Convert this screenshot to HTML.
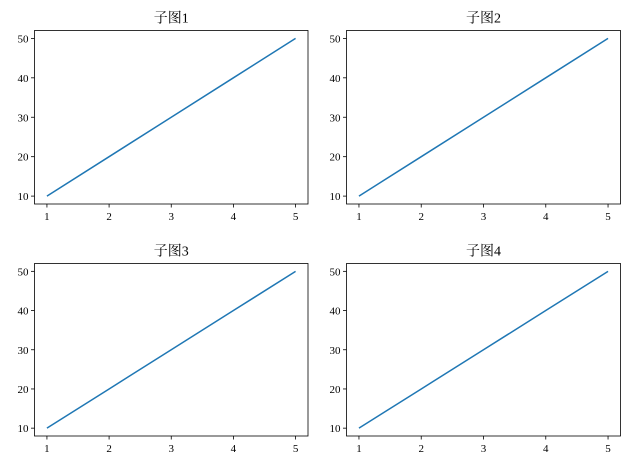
<!DOCTYPE html>
<html><head><meta charset="utf-8"><style>
body{margin:0;background:#fff}
svg{display:block;font-family:"Liberation Serif","Noto Serif CJK SC",serif}
</style></head><body>
<svg id="fig" width="629" height="470" viewBox="0 0 629 470"></svg>
<script>
const xValues=[1,2,3,4,5];
const yValues=[10,20,30,40,50];
const xTicks=[1,2,3,4,5];
const yTicks=[10,20,30,40,50];
const titles=["子图1","子图2","子图3","子图4"];
const boxes=[[34.5,30.5,308,204],[346.5,30.5,620.5,204],[34.5,263.5,308,436],[346.5,263.5,620.5,436]];
const NS="http://www.w3.org/2000/svg";
const svg=document.getElementById('fig');
function mk(t,a,p){const e=document.createElementNS(NS,t);for(const k in a)e.setAttribute(k,a[k]);p.appendChild(e);return e;}
boxes.forEach((b,i)=>{
  const [l,t,r,bt]=b;
  const g=mk('g',{},svg);
  
  
  const xmin=1-0.2,xmax=5+0.2,ymin=10-2,ymax=50+2;
  const sx=v=>l+(v-xmin)/(xmax-xmin)*(r-l);
  const sy=v=>bt-(v-ymin)/(ymax-ymin)*(bt-t);
  const pts=xValues.map((x,k)=>sx(x)+','+sy(yValues[k])).join(' ');
  const line=mk('polyline',{points:pts,fill:'none',stroke:'#1f77b4','stroke-width':1.5},g);
  
  
  const fr=mk('rect',{x:l,y:t,width:r-l,height:bt-t,fill:'none',stroke:'#000','stroke-width':0.8},g);
  
  
  xTicks.forEach(v=>{
    mk('line',{x1:sx(v),x2:sx(v),y1:bt,y2:bt+3.5,stroke:'#000','stroke-width':0.8},g);
    const tx=mk('text',{x:sx(v),y:bt+16,'text-anchor':'middle','font-size':11,fill:'#000'},g);
    tx.textContent=v;
    
    
  });
  yTicks.forEach(v=>{
    mk('line',{x1:l,x2:l-3.5,y1:sy(v),y2:sy(v),stroke:'#000','stroke-width':0.8},g);
    const ty=mk('text',{x:l-6,y:sy(v)+4,'text-anchor':'end','font-size':11,fill:'#000'},g);
    ty.textContent=v;
    
    
  });
  const tt=mk('text',{x:(l+r)/2,y:t-8,'text-anchor':'middle','font-size':14,fill:'#000'},g);
  tt.textContent=titles[i];
  
  
});
</script>
</body></html>
